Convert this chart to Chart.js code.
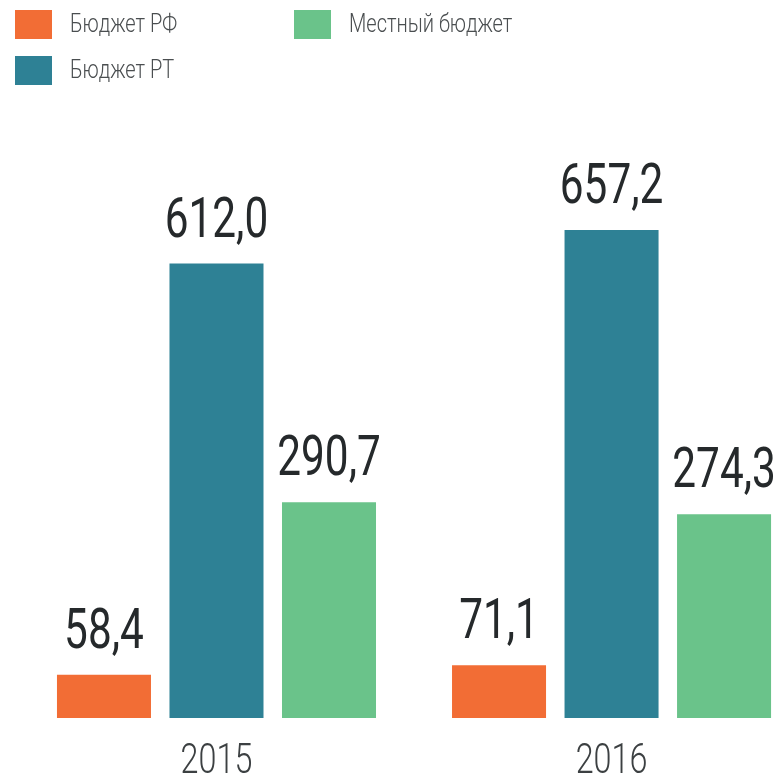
<!DOCTYPE html>
<html>
  <head>
    <meta charset="utf-8">
    <title>Бюджет</title>
    <script src="https://cdn.jsdelivr.net/npm/chart.js"></script>
    <style>
      html, body {
        margin: 0;
        padding: 0;
        background: #ffffff;
        overflow: hidden;
      }
      #wrap {
        width: 783px;
        height: 776px;
      }
    </style>
  </head>
  <body>
    <div id="wrap">
      <canvas id="budgetChart" width="783" height="776"></canvas>
    </div>
    <script>
        const years = [2015, 2016];
        const seriesNames = ['Бюджет РФ', 'Бюджет РТ', 'Местный бюджет'];
        const budgetRF = [58.4, 71.1];
        const budgetRT = [612.0, 657.2];
        const budgetLocal = [290.7, 274.3];
        const colors = ['#f26d35', '#2e8195', '#6ac38a'];

        const family = 'Roboto, "DejaVu Sans", sans-serif';
        const condense = 0.77;

        function points(values) {
            return values.map((v, i) => ({ x: years[i], y: v }));
        }

        // narrow text: draw squeezed horizontally around x
        function narrowText(ctx, text, x, y, align) {
            ctx.save();
            ctx.translate(x, y);
            ctx.scale(condense, 1);
            ctx.textAlign = align;
            ctx.fillText(text, 0, 0);
            ctx.restore();
        }

        // value over each bar, with a decimal comma
        const valueLabels = {
            id: 'valueLabels',
            afterDatasetsDraw(chart) {
                const ctx = chart.ctx;
                ctx.save();
                ctx.font = '400 55px ' + family;
                ctx.fillStyle = '#25292b';
                ctx.textBaseline = 'alphabetic';
                chart.data.datasets.forEach((ds, di) => {
                    const meta = chart.getDatasetMeta(di);
                    meta.data.forEach((bar, i) => {
                        const text = ds.data[i].y.toFixed(1).replace('.', ',');
                        narrowText(ctx, text, bar.x, bar.y - 27, 'center');
                    });
                });
                ctx.restore();
            }
        };

        // year under each group, placed by the x scale
        const yearLabels = {
            id: 'yearLabels',
            afterDraw(chart) {
                const ctx = chart.ctx;
                const xs = chart.scales.x;
                ctx.save();
                ctx.font = '300 42px ' + family;
                ctx.fillStyle = '#3c4042';
                ctx.textBaseline = 'alphabetic';
                years.forEach((yr) => {
                    narrowText(ctx, String(yr), xs.getPixelForValue(yr), chart.chartArea.bottom + 55, 'center');
                });
                ctx.restore();
            }
        };

        // legend in two columns: first two series on the left, the third on the right
        const columnLegend = {
            id: 'columnLegend',
            afterDraw(chart) {
                const ctx = chart.ctx;
                ctx.save();
                ctx.font = '300 26px ' + family;
                ctx.textBaseline = 'middle';
                chart.data.datasets.forEach((ds, i) => {
                    const col = Math.floor(i / 2);
                    const row = i % 2;
                    const x = 15 + col * 279;
                    const y = 10 + row * 46;
                    ctx.fillStyle = ds.backgroundColor;
                    ctx.fillRect(x, y, 37, 29);
                    ctx.fillStyle = '#4a4e50';
                    narrowText(ctx, ds.label, x + 55, y + 15, 'left');
                });
                ctx.restore();
            }
        };

        const ctx = document.getElementById('budgetChart');
        new Chart(ctx, {
            type: 'bar',
            data: {
                datasets: [
                    { label: seriesNames[0], data: points(budgetRF), backgroundColor: colors[0] },
                    { label: seriesNames[1], data: points(budgetRT), backgroundColor: colors[1] },
                    { label: seriesNames[2], data: points(budgetLocal), backgroundColor: colors[2] }
                ]
            },
            options: {
                responsive: false,
                animation: false,
                categoryPercentage: 0.8544,
                barPercentage: 0.8356,
                layout: {
                    padding: { top: 118, left: 0, right: 0, bottom: 58 }
                },
                plugins: {
                    legend: { display: false },
                    tooltip: { enabled: false }
                },
                scales: {
                    x: {
                        type: 'linear',
                        display: false,
                        offset: false,
                        min: 2014.452,
                        max: 2016.434,
                        ticks: { stepSize: 1, includeBounds: false }
                    },
                    y: {
                        display: false,
                        min: 0,
                        max: 808
                    }
                }
            },
            plugins: [valueLabels, yearLabels, columnLegend]
        });
    </script>
  </body>
</html>
